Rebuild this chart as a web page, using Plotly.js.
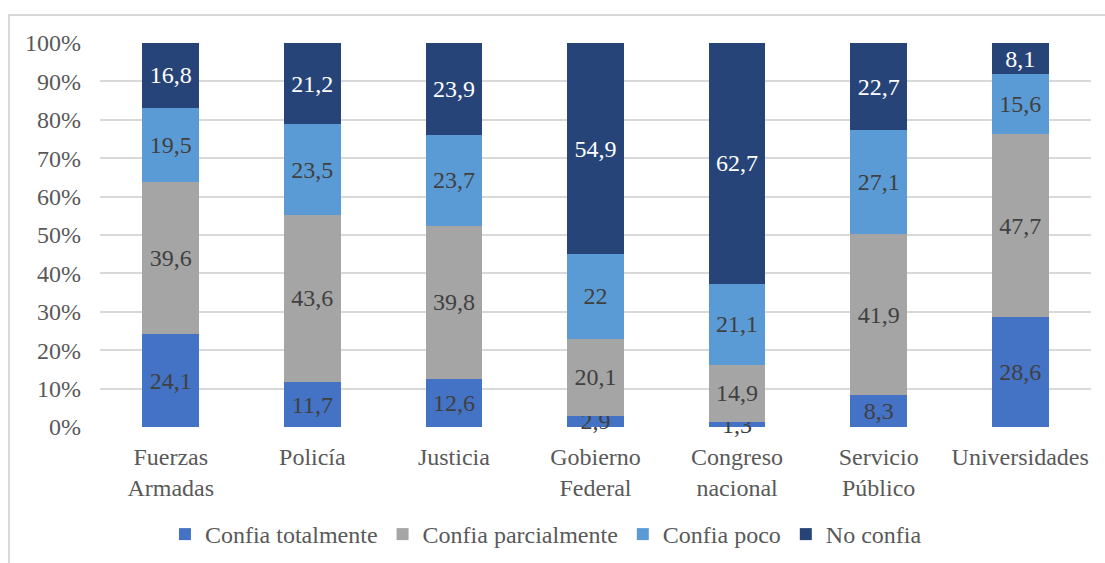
<!DOCTYPE html>
<html>
<head>
<meta charset="utf-8">
<script src="https://cdn.plot.ly/plotly-3.0.1.min.js"></script>
<style>
html,body{margin:0;padding:0;background:#fff;overflow:hidden;width:1105px;height:563px;}
#frame{position:absolute;left:8px;top:14px;width:1200px;height:700px;border:2px solid #d9d9d9;box-sizing:border-box;}
#chart{position:absolute;left:0;top:0;width:1105px;height:563px;}
</style>
</head>
<body>
<div id="frame"></div>
<div id="chart"></div>
<script>
const categories = ["Fuerzas<br>Armadas", "Policía", "Justicia", "Gobierno<br>Federal", "Congreso<br>nacional", "Servicio<br>Público", "Universidades"];
const seriesNames = ["Confia totalmente", "Confia parcialmente", "Confia poco", "No confia"];
const confiaTotalmente = [24.1, 11.7, 12.6, 2.9, 1.3, 8.3, 28.6];
const confiaParcialmente = [39.6, 43.6, 39.8, 20.1, 14.9, 41.9, 47.7];
const confiaPoco = [19.5, 23.5, 23.7, 22, 21.1, 27.1, 15.6];
const noConfia = [16.8, 21.2, 23.9, 54.9, 62.7, 22.7, 8.1];
const yTicks = [0, 10, 20, 30, 40, 50, 60, 70, 80, 90, 100];

const colors = ["#4472C4", "#A5A5A5", "#5B9BD5", "#264478"];
const labelColors = ["#404040", "#404040", "#404040", "#ffffff"];
const seriesValues = [confiaTotalmente, confiaParcialmente, confiaPoco, noConfia];
const FONT = "Liberation Serif, Times New Roman, serif";
const FS = 24;

const traces = seriesValues.map((vals, i) => ({
  type: "bar",
  name: seriesNames[i],
  x: categories,
  y: vals,
  text: vals.map(v => String(v).replace(".", ",")),
  textposition: "inside",
  insidetextanchor: "middle",
  textangle: 0,
  constraintext: "none",
  cliponaxis: false,
  insidetextfont: {family: FONT, size: FS, color: labelColors[i]},
  marker: {color: colors[i], line: {width: 0}},
  hoverinfo: "skip"
}));

const layout = {
  width: 1105,
  height: 563,
  margin: {l: 100, r: 14, t: 43, b: 136, autoexpand: false},
  paper_bgcolor: "rgba(0,0,0,0)",
  plot_bgcolor: "rgba(0,0,0,0)",
  barmode: "stack",
  barnorm: "percent",
  bargap: 0.6,
  font: {family: FONT, size: FS, color: "#595959"},
  xaxis: {
    automargin: false,
    showgrid: false, showline: false, zeroline: false, ticks: "",
    ticklabelstandoff: 13,
    tickfont: {family: FONT, size: FS, color: "#595959"}
  },
  yaxis: {
    automargin: false,
    range: [0, 100],
    tickvals: yTicks,
    ticktext: yTicks.map(t => t + "%"),
    showgrid: true, gridcolor: "#d9d9d9", gridwidth: 2,
    showline: false, zeroline: false, ticks: "",
    ticklabelstandoff: 18,
    tickfont: {family: FONT, size: FS, color: "#595959"}
  },
  showlegend: true,
  legend: {
    orientation: "h",
    x: 0.45, xanchor: "center",
    y: -0.28, yanchor: "middle",
    font: {family: FONT, size: FS, color: "#595959"},
    itemclick: false, itemdoubleclick: false,
    traceorder: "normal"
  }
};

Plotly.newPlot("chart", traces, layout, {displayModeBar: false, staticPlot: true});
</script>
</body>
</html>
